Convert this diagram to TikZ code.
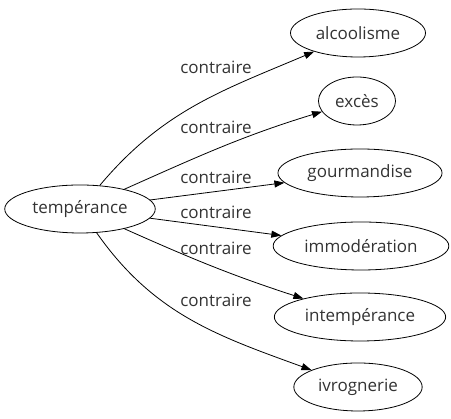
\documentclass[tikz,border=0pt]{standalone}
\usepackage{fontspec}
\setmainfont{Open Sans}
\usetikzlibrary{shapes.geometric,arrows.meta}

\begin{document}
\begin{tikzpicture}[x=1pt,y=1pt,line width=0.8pt,
		mot/.style={draw,ellipse,inner xsep=5.5pt,minimum height=48pt,text=black!80,font=\fontsize{17}{19}\selectfont},
		rel/.style={-{Triangle[length=10pt,width=7pt]}},
		etiq/.style={text=black!80,font=\fontsize{17}{19}\selectfont}]
		\useasboundingbox (0,0) rectangle (451,419);
		% 中心节点
		\node[mot] (temperance) at (80,210) {tempérance};
		% 反义词节点
		\node[mot] (alcoolisme) at (358,386) {alcoolisme};
		\node[mot] (exces) at (357,318) {excès};
		\node[mot] (gourmandise) at (360,246) {gourmandise};
		\node[mot] (immoderation) at (361,173) {immodération};
		\node[mot] (intemperance) at (360,102) {intempérance};
		\node[mot] (ivrognerie) at (358,32) {ivrognerie};
		% 绘制箭头
		\draw[rel] (temperance) to[out=50,in=203] (alcoolisme);
		\draw[rel] (temperance) to[out=24,in=197] (exces);
		\draw[rel] (temperance) -- (gourmandise);
		\draw[rel] (temperance) -- (immoderation);
		\draw[rel] (temperance) to[out=-24,in=162] (intemperance);
		\draw[rel] (temperance) to[out=-55,in=160] (ivrognerie);
		% 标注
		\foreach \y in {352,292,242,207,171,119}
			\node[etiq] (contraire\y) at (216,\y) {contraire};
	\end{tikzpicture}
\end{document}
